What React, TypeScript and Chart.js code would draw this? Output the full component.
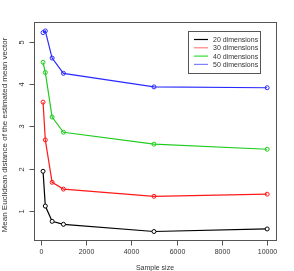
import React, { useEffect, useRef } from "react";
import { Chart, registerables } from "chart.js";

Chart.register(...registerables);

const sampleSizes = [100, 200, 500, 1000, 5000, 10000];
const dim20 = [1.94, 1.12, 0.76, 0.69, 0.52, 0.58];
const dim30 = [3.57, 2.68, 1.68, 1.52, 1.35, 1.4];
const dim40 = [4.51, 4.27, 3.22, 2.86, 2.58, 2.46];
const dim50 = [5.21, 5.25, 4.61, 4.25, 3.93, 3.91];
const seriesLabels = ["20 dimensions", "30 dimensions", "40 dimensions", "50 dimensions"];
const xTicks = [0, 2000, 4000, 6000, 8000, 10000];
const yTicks = [1, 2, 3, 4, 5];
const xTitle = "Sample size";
const yTitle = "Mean Euclidean distance of the estimated mean vector";

const lineColors = ["#000000", "#ff1a1a", "#1fcc1f", "#2a2aff"];
const legendColors = ["#000000", "#ff8080", "#33dd33", "#8080ff"];
const FONT = '"Liberation Sans", Arial, sans-serif';

const rPlugin = {
  id: "rstyle",
  afterDraw(chart: any) {
    const ctx = chart.ctx;
    const { left, right, top, bottom } = chart.chartArea;
    const xs = chart.scales.x;
    const ys = chart.scales.y;
    ctx.save();
    // box
    ctx.strokeStyle = "#555";
    ctx.lineWidth = 1;
    ctx.strokeRect(Math.round(left) + 0.5, Math.round(top) + 0.5, Math.round(right - left), Math.round(bottom - top));
    ctx.fillStyle = "#333";
    ctx.font = `7px ${FONT}`;
    // x ticks
    ctx.textAlign = "center";
    ctx.textBaseline = "middle";
    for (const v of xTicks) {
      const px = Math.round(xs.getPixelForValue(v)) + 0.5;
      ctx.beginPath();
      ctx.moveTo(px, Math.round(bottom) + 0.5);
      ctx.lineTo(px, Math.round(bottom) + 5.5);
      ctx.stroke();
      ctx.fillText(String(v), px, bottom + 12);
    }
    // y ticks
    ctx.font = `7.5px ${FONT}`;
    for (const v of yTicks) {
      const py = Math.round(ys.getPixelForValue(v)) + 0.5;
      ctx.beginPath();
      ctx.moveTo(Math.round(left) + 0.5, py);
      ctx.lineTo(Math.round(left) - 4.5, py);
      ctx.stroke();
      ctx.save();
      ctx.translate(left - 12, py);
      ctx.rotate(-Math.PI / 2);
      ctx.fillText(String(v), 0, 0);
      ctx.restore();
    }
    // titles
    ctx.font = `7px ${FONT}`;
    ctx.fillText(xTitle, (left + right) / 2, bottom + 28);
    ctx.save();
    ctx.font = `8px ${FONT}`;
    ctx.translate(5, 135);
    ctx.rotate(-Math.PI / 2);
    ctx.fillText(yTitle, 0, 0);
    ctx.restore();
    // legend
    ctx.font = `7px ${FONT}`;
    const lx = 188.5, ly = 31.5, lw = 72, lh = 42;
    ctx.strokeStyle = "#555";
    ctx.strokeRect(lx, ly, lw, lh);
    ctx.textAlign = "left";
    chart.data.datasets.forEach((ds: any, i: number) => {
      const yy = 39.5 + i * 8.3;
      ctx.strokeStyle = legendColors[i];
      ctx.lineWidth = 1.2;
      ctx.beginPath();
      ctx.moveTo(194, yy);
      ctx.lineTo(208, yy);
      ctx.stroke();
      ctx.fillStyle = "#333";
      ctx.fillText(ds.label, 213, yy + 0.5);
    });
    ctx.restore();
  },
};

export default function App() {
  const ref = useRef<HTMLCanvasElement>(null);
  useEffect(() => {
    const all = [dim20, dim30, dim40, dim50];
    const chart = new Chart(ref.current!, {
      type: "line",
      data: {
        datasets: all.map((arr, i) => ({
          label: seriesLabels[i],
          data: sampleSizes.map((x, j) => ({ x, y: arr[j] })),
          borderColor: lineColors[i],
          borderWidth: 1.2,
          pointRadius: 2,
          pointBorderWidth: 1,
          pointBorderColor: lineColors[i],
          pointBackgroundColor: i === 0 ? "#ffffff" : "rgba(0,0,0,0)",
          tension: 0,
          fill: false,
        })),
      },
      options: {
        responsive: false,
        animation: false,
        layout: { padding: { left: 34, right: 18, top: 22, bottom: 31 } },
        scales: {
          x: { type: "linear", display: false, min: -300, max: 10390 },
          y: { type: "linear", display: false, min: 0.32, max: 5.46 },
        },
        plugins: { legend: { display: false }, tooltip: { enabled: false } },
      },
      plugins: [rPlugin],
    });
    return () => chart.destroy();
  }, []);
  return (
    <div style={{ position: "fixed", left: 0, top: 0, width: 294, height: 271, background: "#fff" }}>
      <canvas ref={ref} width={294} height={271} style={{ width: 294, height: 271, display: "block" }} />
    </div>
  );
}
